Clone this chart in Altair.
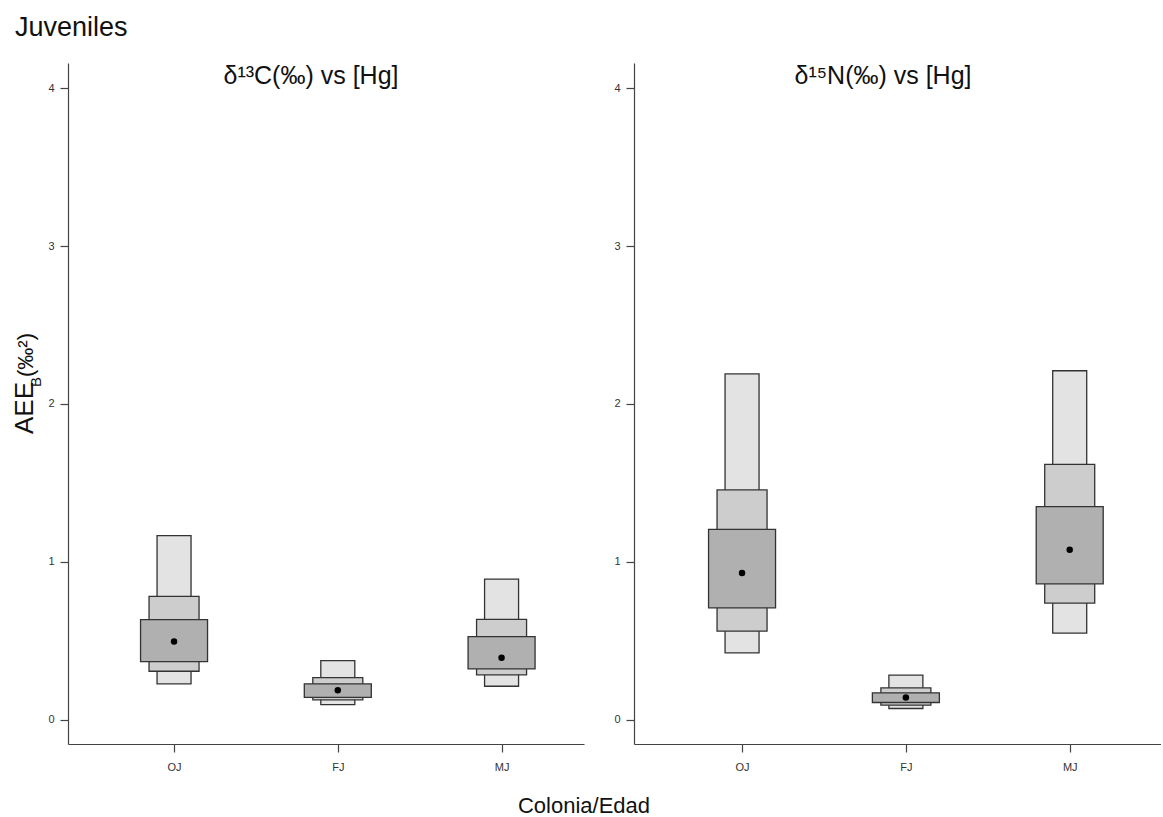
import altair as alt
import pandas as pd

categories = ["OJ", "FJ", "MJ"]
positions = [1, 2, 3]

# Left panel: d13C vs [Hg]
c_light_lo = [0.226, 0.095, 0.211]
c_light_hi = [1.165, 0.373, 0.890]
c_med_lo = [0.306, 0.125, 0.283]
c_med_hi = [0.780, 0.266, 0.635]
c_dark_lo = [0.367, 0.141, 0.321]
c_dark_hi = [0.633, 0.226, 0.525]
c_mode = [0.494, 0.185, 0.392]

# Right panel: d15N vs [Hg]
n_light_lo = [0.423, 0.070, 0.548]
n_light_hi = [2.190, 0.281, 2.210]
n_med_lo = [0.560, 0.091, 0.738]
n_med_hi = [1.455, 0.201, 1.617]
n_dark_lo = [0.708, 0.108, 0.859]
n_dark_hi = [1.205, 0.169, 1.349]
n_mode = [0.928, 0.140, 1.076]

FONT = "Liberation Sans"
STROKE = "#333333"


def make_df(light_lo, light_hi, med_lo, med_hi, dark_lo, dark_hi, mode):
    rows = []
    for i, c in enumerate(categories):
        rows.append(dict(cat=c, pos=positions[i], level="light", lo=light_lo[i], hi=light_hi[i]))
        rows.append(dict(cat=c, pos=positions[i], level="med", lo=med_lo[i], hi=med_hi[i]))
        rows.append(dict(cat=c, pos=positions[i], level="dark", lo=dark_lo[i], hi=dark_hi[i]))
        rows.append(dict(cat=c, pos=positions[i], level="mode", lo=mode[i], hi=mode[i]))
    return pd.DataFrame(rows)


label_expr = " : ".join(
    [f"datum.value == {p} ? '{c}'" for p, c in zip(positions[:-1], categories[:-1])]
) + f" : '{categories[-1]}'"


def panel(df, xdomain, width, height, title, title_x, extras):
    xs = alt.X("pos:Q", scale=alt.Scale(domain=xdomain, nice=False, zero=False),
               axis=alt.Axis(values=positions, labelExpr=label_expr, title=None,
                             tickSize=8, labelPadding=9, labelFontSize=11))
    ys = alt.Y("lo:Q", scale=alt.Scale(domain=[-0.155, 4.16], nice=False, zero=False),
               axis=alt.Axis(values=[0, 1, 2, 3, 4], title=None, tickSize=8,
                             labelPadding=6, labelFontSize=11))
    base = alt.Chart(df)
    layers = []
    for lvl, w, col in [("light", 34, "#e3e3e3"), ("med", 50, "#cdcdcd"), ("dark", 67, "#b0b0b0")]:
        layers.append(
            base.transform_filter(alt.datum.level == lvl)
            .mark_bar(size=w, fill=col, stroke=STROKE, strokeWidth=1.3)
            .encode(x=xs, y=ys, y2="hi:Q")
        )
    layers.append(
        base.transform_filter(alt.datum.level == "mode")
        .mark_circle(size=42, color="black", opacity=1)
        .encode(x=xs, y=ys)
    )
    tdf = pd.DataFrame({"t": [title]})
    layers.append(
        alt.Chart(tdf).mark_text(font=FONT, fontSize=25, align="center", baseline="middle", color="#111")
        .encode(x=alt.value(title_x), y=alt.value(13), text="t:N")
    )
    layers.extend(extras)
    return alt.layer(*layers).properties(width=width, height=height)


H = 681
W1 = 516
W2 = 527


def txt(s, x, y, size, angle=0, align="left", baseline="alphabetic"):
    d = pd.DataFrame({"t": [s]})
    return alt.Chart(d).mark_text(font=FONT, fontSize=size, angle=angle, align=align,
                                  baseline=baseline, color="#111").encode(
        x=alt.value(x), y=alt.value(y), text="t:N")


extras_left = [
    txt("Juveniles", -53, -27, 27),
    txt("AEE", -35, 371, 26, angle=270),
    txt("B", -27, 324, 15, angle=270),
    txt("(‰²)", -35, 314, 22, angle=270),
    txt("Colonia/Edad", W1, 743, 22, align="center", baseline="middle"),
]

left = panel(make_df(c_light_lo, c_light_hi, c_med_lo, c_med_hi, c_dark_lo, c_dark_hi, c_mode),
             [0.383, 0.383 + W1 / 167.0], W1, H, "δ¹³C(‰) vs [Hg]", 243, extras_left)
right = panel(make_df(n_light_lo, n_light_hi, n_med_lo, n_med_hi, n_dark_lo, n_dark_hi, n_mode),
              [0.371, 0.371 + W2 / 167.0], W2, H, "δ¹⁵N(‰) vs [Hg]", 249, [])

chart = alt.hconcat(left, right, spacing=50, bounds="flush").properties(
    padding={"left": 12, "top": 14, "right": 0, "bottom": 0}
).configure_view(stroke=None).configure_axis(
    grid=False, domainColor="#444", tickColor="#444", labelColor="#333",
    labelFont=FONT, domainWidth=1.2, tickWidth=1.2
)

chart.save("out.html", embed_options={"renderer": "svg", "actions": False})
